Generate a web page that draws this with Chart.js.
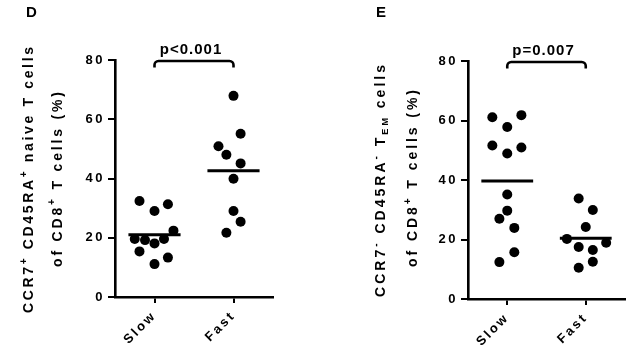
<!DOCTYPE html>
<html><head><meta charset="utf-8">
<script src="https://cdn.jsdelivr.net/npm/chart.js@4/dist/chart.umd.min.js"></script>
<style>
html,body{margin:0;padding:0;background:#fff;}
#wrap{position:relative;width:640px;height:356px;overflow:hidden;background:#fff;}
.cv{position:absolute;top:0;width:320px;height:356px;}
canvas{display:block;}
</style></head><body>
<div id="wrap">
<div class="cv" style="left:0"><canvas id="cD" width="320" height="356"></canvas></div>
<div class="cv" style="left:320px"><canvas id="cE" width="320" height="356"></canvas></div>
</div>
<script>
// ---------- data ----------
const categories = ['Slow', 'Fast'];
const yTicks = [0, 20, 40, 60, 80];

// Panel D: CCR7+ CD45RA+ naive T cells (% of CD8+)
const dSlow  = [32.4, 31.3, 29.0, 22.4, 19.6, 19.2, 19.6, 18.1, 15.4, 13.3, 11.1];
const dSlowJ = [-0.19, 0.17, 0, 0.24, -0.25, -0.12, 0.12, 0, -0.19, 0.17, 0];
const dFast  = [67.9, 55.1, 50.9, 48.0, 45.1, 39.9, 29.0, 25.4, 21.7];
const dFastJ = [0, 0.09, -0.19, -0.09, 0.09, 0, 0, 0.09, -0.09];
const dMeans = [21.0, 42.6];
const dP = 'p<0.001';

// Panel E: CCR7- CD45RA- TEM cells (% of CD8+)
const eSlow  = [61.1, 61.8, 57.8, 51.6, 50.9, 48.9, 35.1, 29.7, 27.0, 23.9, 15.7, 12.4];
const eSlowJ = [-0.19, 0.18, 0, -0.19, 0.18, 0, 0, 0, -0.1, 0.09, 0.09, -0.1];
const eFast  = [33.8, 29.9, 24.2, 20.2, 17.5, 18.9, 16.5, 12.5, 10.5];
const eFastJ = [-0.09, 0.09, 0, -0.24, -0.09, 0.26, 0.09, 0.09, -0.09];
const eMeans = [39.7, 20.4];
const eP = 'p=0.007';

// ---------- helpers ----------
const FONT = '"Liberation Sans", Arial, sans-serif';

function drawSpacedRun(ctx, segs, target, cx, baseY, rotate) {
  const fonts = {n: 'bold 14px ' + FONT, sup: 'bold 10px ' + FONT, sub: 'bold 9px ' + FONT};
  const shift = {n: 0, sup: -6.5, sub: 3};
  const chars = [];
  segs.forEach(s => { for (const ch of s.t) chars.push({ch, k: s.kind || 'n'}); });
  let natural = 0;
  chars.forEach(c => { ctx.font = fonts[c.k]; c.w = ctx.measureText(c.ch).width; natural += c.w; });
  const sp = (target - natural) / (chars.length - 1);
  ctx.save();
  ctx.fillStyle = '#000';
  ctx.textBaseline = 'alphabetic';
  ctx.textAlign = 'left';
  if (rotate) { ctx.translate(baseY, cx); ctx.rotate(-Math.PI / 2); }
  else { ctx.translate(cx, baseY); }
  let x = -target / 2;
  chars.forEach(c => { ctx.font = fonts[c.k]; ctx.fillText(c.ch, x, shift[c.k]); x += c.w + sp; });
  ctx.restore();
}

function makePanel(id, cfg) {
  const [slow, slowJ, fast, fastJ, means] = cfg.data;
  const toPts = (vals, jit, ci) => vals.map((v, i) => ({x: ci + jit[i], y: v}));
  const meanLine = (ci, m) => [{x: ci - 0.33, y: m}, {x: ci + 0.33, y: m}];
  const tickFont = {family: FONT, size: 13, weight: 'bold'};

  const decor = {
    id: 'decor',
    beforeDraw(chart) { chart.ctx.letterSpacing = '2.5px'; },
    afterDraw(chart) {
      const ctx = chart.ctx;
      ctx.letterSpacing = '0px';
      const xs = chart.scales.x, ys = chart.scales.y;
      // panel letter
      ctx.save();
      ctx.font = 'bold 15px ' + FONT; ctx.fillStyle = '#000'; ctx.textAlign = 'left'; ctx.textBaseline = 'alphabetic';
      ctx.fillText(cfg.letter, cfg.letterX, 17);
      ctx.restore();
      // y title lines
      cfg.titles.forEach(tl => drawSpacedRun(ctx, tl.segs, tl.len, tl.cy, tl.bx, true));
      // bracket
      const x0 = xs.getPixelForValue(0), x1 = xs.getPixelForValue(1);
      const yt = ys.getPixelForValue(80) + 1, yb = yt + 6.5, r = 4;
      ctx.save();
      ctx.strokeStyle = '#000'; ctx.lineWidth = 2.6; ctx.lineCap = 'butt';
      ctx.beginPath();
      ctx.moveTo(x0, yb);
      ctx.arcTo(x0, yt, x0 + r, yt, r);
      ctx.lineTo(x1 - r, yt);
      ctx.arcTo(x1, yt, x1, yb, r);
      ctx.lineTo(x1, yb);
      ctx.stroke();
      ctx.restore();
      // p value
      ctx.save();
      ctx.font = 'bold 15px ' + FONT; ctx.fillStyle = '#000';
      ctx.letterSpacing = '1px';
      ctx.textAlign = 'center'; ctx.textBaseline = 'alphabetic';
      ctx.fillText(cfg.p, (x0 + x1) / 2 - 3, yt - 7);
      ctx.restore();
    }
  };

  return new Chart(document.getElementById(id), {
    type: 'scatter',
    data: {
      datasets: [
        {data: toPts(slow, slowJ, 0), pointRadius: 5, pointBackgroundColor: '#000', pointBorderWidth: 0, showLine: false},
        {data: toPts(fast, fastJ, 1), pointRadius: 5, pointBackgroundColor: '#000', pointBorderWidth: 0, showLine: false},
        {type: 'line', data: meanLine(0, means[0]), borderColor: '#000', borderWidth: 3, pointRadius: 0, fill: false},
        {type: 'line', data: meanLine(1, means[1]), borderColor: '#000', borderWidth: 3, pointRadius: 0, fill: false}
      ]
    },
    options: {
      responsive: false, animation: false, devicePixelRatio: 1,
      layout: {padding: {top: cfg.top, right: 320 - cfg.right, bottom: 0, left: 0}},
      plugins: {legend: {display: false}, tooltip: {enabled: false}},
      scales: {
        x: {
          type: 'linear', min: -0.5, max: 1.5,
          afterBuildTicks: s => { s.ticks = categories.map((c, i) => ({value: i})); },
          afterFit: s => { s.height = 356 - cfg.bottom; },
          ticks: {callback: v => categories[v], minRotation: 45, maxRotation: 45, font: tickFont, color: '#000', padding: 5},
          grid: {drawOnChartArea: false, drawTicks: true, tickLength: 6, color: '#000', lineWidth: 2},
          border: {color: '#000', width: 2.6}
        },
        y: {
          min: 0, max: 80,
          afterBuildTicks: s => { s.ticks = yTicks.map(v => ({value: v})); },
          afterFit: s => { s.width = cfg.left; },
          ticks: {font: tickFont, color: '#000', padding: 3},
          grid: {drawOnChartArea: false, drawTicks: true, tickLength: 7, color: '#000', lineWidth: 2},
          border: {color: '#000', width: 2.6}
        }
      }
    },
    plugins: [decor]
  });
}

makePanel('cD', {
  data: [dSlow, dSlowJ, dFast, dFastJ, dMeans], p: dP,
  left: 115, right: 273, top: 60, bottom: 297,
  letter: 'D', letterX: 26,
  titles: [
    {segs: [{t: 'CCR7'}, {t: '+', kind: 'sup'}, {t: ' CD45RA'}, {t: '+', kind: 'sup'}, {t: ' naive T cells'}], len: 266, cy: 180, bx: 33},
    {segs: [{t: 'of CD8'}, {t: '+', kind: 'sup'}, {t: ' T cells (%)'}], len: 175, cy: 179.5, bx: 61.5}
  ]
});

makePanel('cE', {
  data: [eSlow, eSlowJ, eFast, eFastJ, eMeans], p: eP,
  left: 148, right: 305, top: 61, bottom: 299,
  letter: 'E', letterX: 56,
  titles: [
    {segs: [{t: 'CCR7'}, {t: '-', kind: 'sup'}, {t: ' CD45RA'}, {t: '-', kind: 'sup'}, {t: ' T'}, {t: 'EM', kind: 'sub'}, {t: ' cells'}], len: 232, cy: 181, bx: 65},
    {segs: [{t: 'of CD8'}, {t: '+', kind: 'sup'}, {t: ' T cells (%)'}], len: 177, cy: 178.5, bx: 97}
  ]
});
</script>
</body></html>
